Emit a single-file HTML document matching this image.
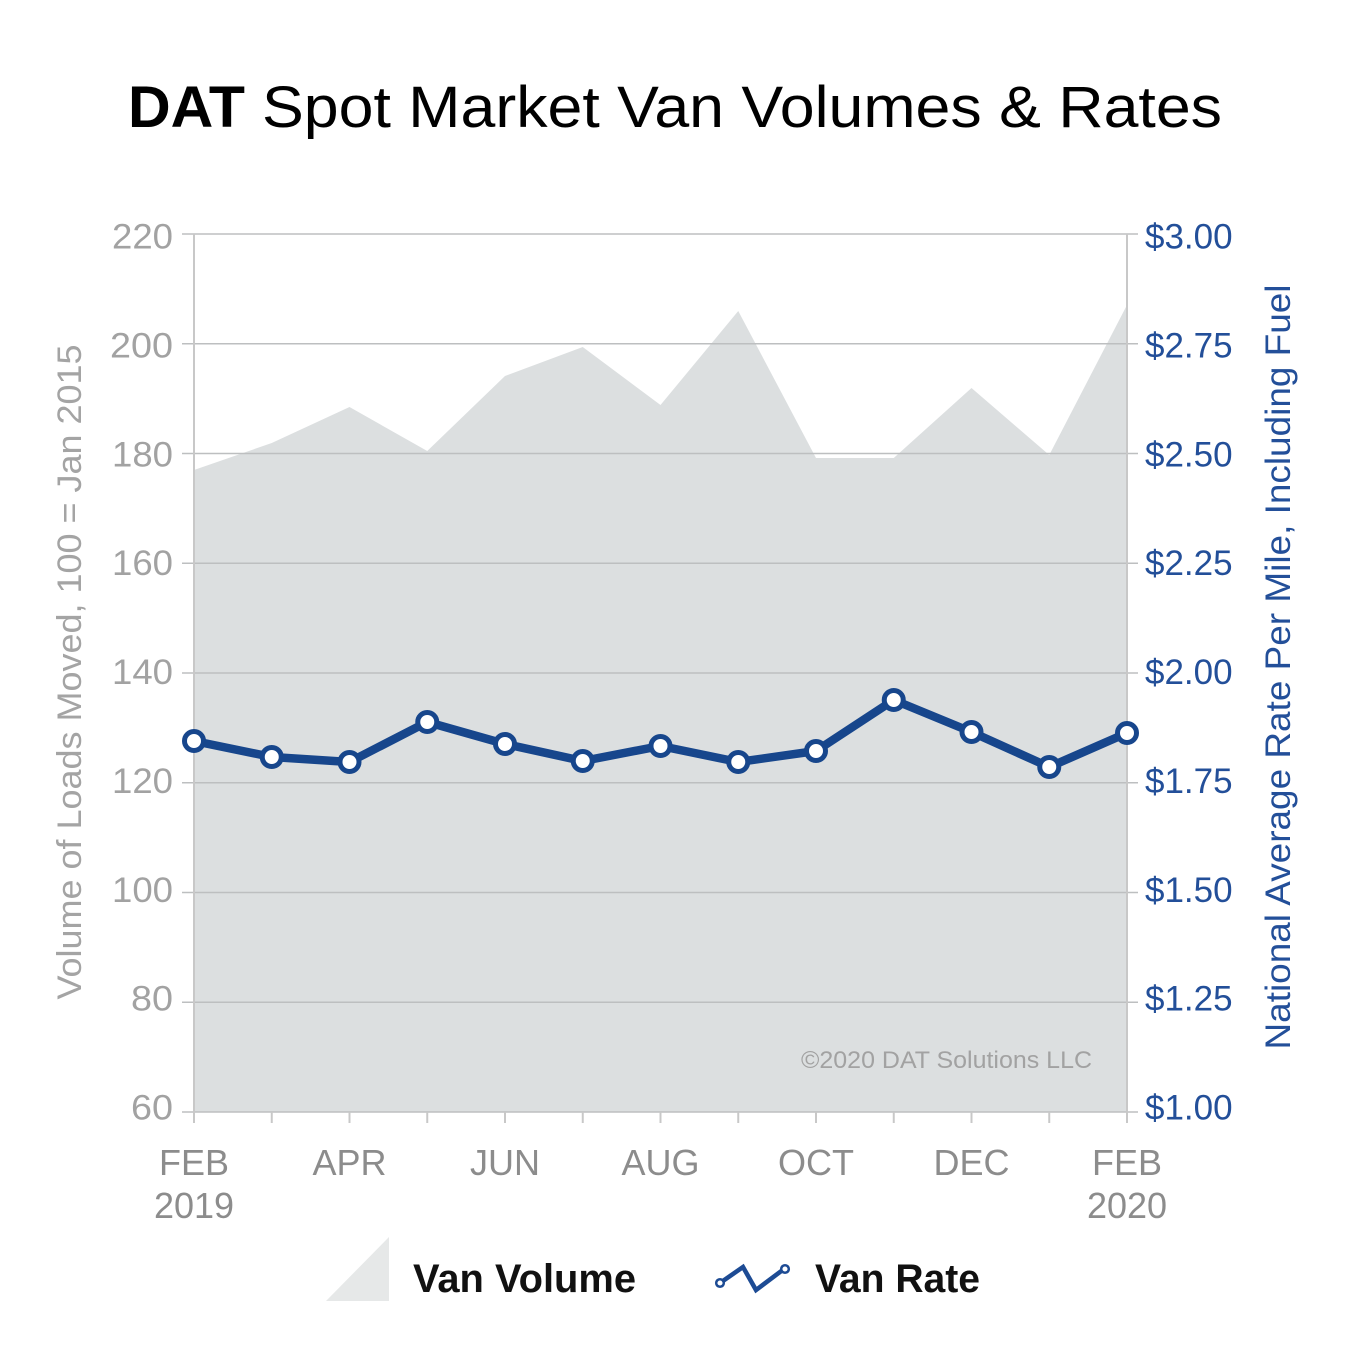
<!DOCTYPE html>
<html>
<head>
<meta charset="utf-8">
<style>
  html,body{margin:0;padding:0;background:#ffffff;}
  svg{display:block;}
  text{font-family:"Liberation Sans", Arial, sans-serif;}
</style>
</head>
<body>
<svg width="1351" height="1351" viewBox="0 0 1351 1351" xmlns="http://www.w3.org/2000/svg">
  <rect x="0" y="0" width="1351" height="1351" fill="#ffffff"/>

  <!-- Title -->
  <text x="128" y="127" font-size="58" font-weight="bold" fill="#000" textLength="117" lengthAdjust="spacingAndGlyphs">DAT</text>
  <text x="262" y="127" font-size="58" fill="#000" textLength="960" lengthAdjust="spacingAndGlyphs">Spot Market Van Volumes &amp; Rates</text>

  <!-- Area -->
  <polygon fill="#dcdfe0" points="194,470 271.75,443 349.5,407 427.25,451 505,376 582.75,347 660.5,405 738.25,311 816,458 893.75,458 971.5,388 1049.25,455 1127,305 1127,1112 194,1112"/>

  <!-- Gridlines -->
  <g stroke="#bdbfc0" stroke-width="1.6">
    <line x1="182" y1="234" x2="1138" y2="234"/>
    <line x1="182" y1="343.75" x2="1138" y2="343.75"/>
    <line x1="182" y1="453.5" x2="1138" y2="453.5"/>
    <line x1="182" y1="563.25" x2="1138" y2="563.25"/>
    <line x1="182" y1="673" x2="1138" y2="673"/>
    <line x1="182" y1="782.75" x2="1138" y2="782.75"/>
    <line x1="182" y1="892.5" x2="1138" y2="892.5"/>
    <line x1="182" y1="1002.25" x2="1138" y2="1002.25"/>
    <line x1="182" y1="1112" x2="1138" y2="1112"/>
  </g>
  <!-- Axes -->
  <g stroke="#c8c8c8" stroke-width="2">
    <line x1="194" y1="234" x2="194" y2="1123"/>
    <line x1="1127" y1="234" x2="1127" y2="1123"/>
    <line x1="271.75" y1="1112" x2="271.75" y2="1123"/>
    <line x1="349.5" y1="1112" x2="349.5" y2="1123"/>
    <line x1="427.25" y1="1112" x2="427.25" y2="1123"/>
    <line x1="505" y1="1112" x2="505" y2="1123"/>
    <line x1="582.75" y1="1112" x2="582.75" y2="1123"/>
    <line x1="660.5" y1="1112" x2="660.5" y2="1123"/>
    <line x1="738.25" y1="1112" x2="738.25" y2="1123"/>
    <line x1="816" y1="1112" x2="816" y2="1123"/>
    <line x1="893.75" y1="1112" x2="893.75" y2="1123"/>
    <line x1="971.5" y1="1112" x2="971.5" y2="1123"/>
    <line x1="1049.25" y1="1112" x2="1049.25" y2="1123"/>
  </g>

  <!-- Left tick labels -->
  <g font-size="35" fill="#a2a2a2" text-anchor="end">
    <text x="173" y="248.5" textLength="61" lengthAdjust="spacingAndGlyphs">220</text>
    <text x="173" y="357.4" textLength="63" lengthAdjust="spacingAndGlyphs">200</text>
    <text x="173" y="466.3" textLength="61" lengthAdjust="spacingAndGlyphs">180</text>
    <text x="173" y="575.1" textLength="61" lengthAdjust="spacingAndGlyphs">160</text>
    <text x="173" y="684" textLength="61" lengthAdjust="spacingAndGlyphs">140</text>
    <text x="173" y="792.9" textLength="61" lengthAdjust="spacingAndGlyphs">120</text>
    <text x="173" y="901.8" textLength="61" lengthAdjust="spacingAndGlyphs">100</text>
    <text x="173" y="1010.6" textLength="42" lengthAdjust="spacingAndGlyphs">80</text>
    <text x="173" y="1119.5" textLength="42" lengthAdjust="spacingAndGlyphs">60</text>
  </g>

  <!-- Right tick labels -->
  <g font-size="35" fill="#234f99">
    <text x="1145" y="248.5">$3.00</text>
    <text x="1145" y="357.4">$2.75</text>
    <text x="1145" y="466.3">$2.50</text>
    <text x="1145" y="575.1">$2.25</text>
    <text x="1145" y="684">$2.00</text>
    <text x="1145" y="792.9">$1.75</text>
    <text x="1145" y="901.8">$1.50</text>
    <text x="1145" y="1010.6">$1.25</text>
    <text x="1145" y="1119.5">$1.00</text>
  </g>

  <!-- Axis titles -->
  <text transform="translate(81,672) rotate(-90)" font-size="34" fill="#a4a4a4" text-anchor="middle" textLength="655" lengthAdjust="spacingAndGlyphs">Volume of Loads Moved, 100 = Jan 2015</text>
  <text transform="translate(1290,667) rotate(-90)" font-size="35" fill="#234f99" text-anchor="middle" textLength="765" lengthAdjust="spacingAndGlyphs">National Average Rate Per Mile, Including Fuel</text>

  <!-- X labels -->
  <g font-size="36" fill="#8c8c8c" text-anchor="middle">
    <text x="194" y="1175">FEB</text>
    <text x="194" y="1218">2019</text>
    <text x="349.5" y="1175">APR</text>
    <text x="505" y="1175">JUN</text>
    <text x="660.5" y="1175">AUG</text>
    <text x="816" y="1175">OCT</text>
    <text x="971.5" y="1175">DEC</text>
    <text x="1127" y="1175">FEB</text>
    <text x="1127" y="1218">2020</text>
  </g>

  <!-- Copyright -->
  <text x="1092" y="1068" font-size="24" fill="#a2a2a2" text-anchor="end" textLength="291" lengthAdjust="spacingAndGlyphs">©2020 DAT Solutions LLC</text>

  <!-- Rate line -->
  <polyline fill="none" stroke="#17468c" stroke-width="8.5" stroke-linejoin="round" points="194,741 271.75,757 349.5,762 427.25,722 505,744 582.75,761 660.5,746 738.25,762 816,751 893.75,700 971.5,732 1049.25,767 1127,733"/>
  <g fill="#ffffff" stroke="#17468c" stroke-width="5">
    <circle cx="194" cy="741" r="9.5"/>
    <circle cx="271.75" cy="757" r="9.5"/>
    <circle cx="349.5" cy="762" r="9.5"/>
    <circle cx="427.25" cy="722" r="9.5"/>
    <circle cx="505" cy="744" r="9.5"/>
    <circle cx="582.75" cy="761" r="9.5"/>
    <circle cx="660.5" cy="746" r="9.5"/>
    <circle cx="738.25" cy="762" r="9.5"/>
    <circle cx="816" cy="751" r="9.5"/>
    <circle cx="893.75" cy="700" r="9.5"/>
    <circle cx="971.5" cy="732" r="9.5"/>
    <circle cx="1049.25" cy="767" r="9.5"/>
    <circle cx="1127" cy="733" r="9.5"/>
  </g>

  <!-- Legend -->
  <polygon fill="#e6e8e8" points="326,1301 389,1301 389,1237"/>
  <text x="413" y="1292" font-size="40" font-weight="bold" fill="#111" textLength="223" lengthAdjust="spacingAndGlyphs">Van Volume</text>
  <polyline fill="none" stroke="#1d4b94" stroke-width="4.5" stroke-linejoin="miter" points="720,1283 743,1267 756,1290 784,1269"/>
  <circle cx="720" cy="1283" r="3.8" fill="#fff" stroke="#1d4b94" stroke-width="2.5"/>
  <circle cx="785" cy="1269" r="3.8" fill="#fff" stroke="#1d4b94" stroke-width="2.5"/>
  <text x="815" y="1292" font-size="40" font-weight="bold" fill="#111" textLength="165" lengthAdjust="spacingAndGlyphs">Van Rate</text>
</svg>
</body>
</html>
